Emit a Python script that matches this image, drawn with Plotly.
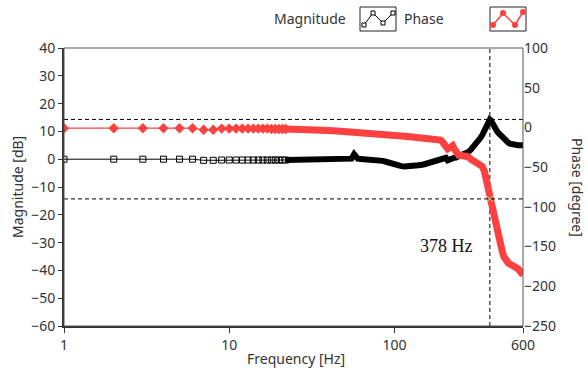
import plotly.graph_objects as go

# ---------------- data ----------------
freq_low = list(range(1, 23))
mag_low = [0, 0, 0, 0, 0, 0, -0.4, -0.4, -0.3, -0.3, -0.3, -0.3, -0.3, -0.3, -0.3,
           -0.3, -0.3, -0.3, -0.3, -0.3, -0.3, -0.3]
phase_low = [-1, -1, -1, -1, -1, -1, -3, -3, -1.5, -1.5, -1.5, -1.5, -1.5, -1.5, -1.5,
             -1.5, -1.5, -2, -2, -2, -2, -2]

freq_hi = [22, 26, 30, 35, 40, 45, 50, 55, 57, 60, 65, 70, 75, 80, 85, 90, 95, 100,
           105, 110, 115, 120, 130, 140, 150, 160, 170, 180, 190, 195, 200, 205, 210,
           215, 220, 225, 230, 235, 240, 245, 250, 260, 270, 280, 290, 300, 310, 320,
           330, 340, 350, 355, 360, 365, 370, 375, 378, 382, 386, 390, 395, 400, 405,
           410, 415, 420, 430, 440, 450, 460, 470, 480, 490, 500, 515, 530, 545, 560,
           575, 590, 600]
mag_hi = [-0.3, -0.3, -0.2, -0.1, 0, 0.1, 0.2, 0.2, 1.8, 0.2, 0, -0.1, -0.3, -0.4, -0.6,
          -1.0, -1.5, -2.0, -2.3, -2.5, -2.6, -2.6, -2.5, -2.2, -1.9, -1.5, -1.1, -0.8,
          -0.4, -0.2, 0.3, 0.5, -0.4, 0.0, 0.3, 0.4, 0.5, 0.6, 0.8, 1.0, 1.1, 1.4, 1.9,
          2.6, 3.4, 4.3, 5.3, 6.4, 7.5, 8.7, 10.2, 11.0, 11.9, 12.7, 13.5, 14.1, 14.3,
          14.1, 13.6, 13.0, 12.4, 11.8, 11.3, 10.8, 10.3, 9.9, 9.2, 8.5, 7.9, 7.3, 6.8,
          6.3, 5.9, 5.6, 5.3, 5.1, 5.0, 5.0, 5.0, 5.0, 5.0]
phase_hi = [-2, -2, -3, -3.5, -4, -4.5, -5, -5.5, -5.5, -6, -6.5, -7, -7, -7.5, -8,
            -8.5, -9, -9.5, -10, -10.5, -11, -11.5, -12, -13, -13.5, -14, -14.5, -15,
            -16, -18, -21, -26, -27, -26, -24, -23, -27, -31, -35, -35, -35, -35, -36,
            -37, -40, -42, -43, -44, -46, -49, -55, -61, -68, -74, -80, -87, -91, -96,
            -101, -105, -110, -114, -119, -124, -129, -133, -142, -150, -157, -163, -167,
            -170, -171, -172, -173, -174, -176, -178, -181, -184, -186]

cursor_freq = 378
cursor_mag = 14.3
cursor_phase = -90
x_ticks = [1, 10, 100, 600]
x_range = [1, 600]
mag_range = [-60, 40]
phase_range = [-250, 100]

# ---------------- style ----------------
RED = "#ff4040"
BLACK = "#000000"
TXT = "#333333"
FONT = "Noto Sans"
W, H = 587, 378
ML, MR, MT, MB = 64, 64, 48, 52
PW, PH = W - ML - MR, H - MT - MB


def px(x):
    return (x - ML) / PW


def py(y):
    return (H - MB - y) / PH


fig = go.Figure()

# Phase (red) on y2
fig.add_trace(go.Scatter(x=freq_low, y=phase_low, yaxis="y2", mode="lines+markers",
                         line=dict(color=RED, width=1.2),
                         marker=dict(symbol="diamond", size=8, color=RED),
                         showlegend=False, hoverinfo="skip"))
fig.add_trace(go.Scatter(x=freq_hi, y=phase_hi, yaxis="y2", mode="lines",
                         line=dict(color=RED, width=7),
                         showlegend=False, hoverinfo="skip"))
# Magnitude (black) on y
fig.add_trace(go.Scatter(x=freq_low, y=mag_low, yaxis="y", mode="lines+markers",
                         line=dict(color=BLACK, width=1),
                         marker=dict(symbol="square-open", size=6, color=BLACK,
                                     line=dict(width=1, color=BLACK)),
                         showlegend=False, hoverinfo="skip"))
fig.add_trace(go.Scatter(x=freq_hi, y=mag_hi, yaxis="y", mode="lines",
                         line=dict(color=BLACK, width=6),
                         showlegend=False, hoverinfo="skip"))

# Cursors
dash = "4px,3px"
fig.add_trace(go.Scatter(x=[cursor_freq, cursor_freq], y=mag_range, yaxis="y",
                         mode="lines", line=dict(color=BLACK, width=1, dash=dash),
                         showlegend=False, hoverinfo="skip"))
fig.add_trace(go.Scatter(x=x_range, y=[cursor_mag, cursor_mag], yaxis="y",
                         mode="lines", line=dict(color=BLACK, width=1, dash=dash),
                         showlegend=False, hoverinfo="skip"))
fig.add_trace(go.Scatter(x=x_range, y=[cursor_phase, cursor_phase], yaxis="y2",
                         mode="lines", line=dict(color=BLACK, width=1, dash=dash),
                         showlegend=False, hoverinfo="skip"))
fig.add_trace(go.Scatter(x=[cursor_freq], y=[cursor_phase], yaxis="y2",
                         mode="markers",
                         marker=dict(symbol="x-thin-open", size=6,
                                     line=dict(width=1, color=BLACK)),
                         showlegend=False, hoverinfo="skip"))

tickfont = dict(family=FONT, size=14, color=TXT)
fig.update_layout(
    width=W, height=H,
    margin=dict(l=ML, r=MR, t=MT, b=MB),
    paper_bgcolor="white", plot_bgcolor="white",
    showlegend=False,
    xaxis=dict(type="log", range=[0, 2.77815], tickvals=x_ticks,
               ticktext=[str(v) for v in x_ticks], ticks="outside", ticklen=5,
               tickcolor=TXT, tickfont=tickfont, showgrid=False, zeroline=False,
               showline=True, linecolor="#333333", linewidth=2),
    yaxis=dict(range=mag_range, dtick=10, ticks="outside", ticklen=4, tickcolor=TXT,
               tickfont=tickfont, showgrid=False, zeroline=False,
               showline=True, linecolor="#333333", linewidth=2),
    yaxis2=dict(range=phase_range, dtick=50, overlaying="y", side="right",
                ticks="", tickfont=tickfont, showgrid=False, zeroline=False,
                showline=False),
)

# frame
fig.add_shape(type="rect", xref="paper", yref="paper", x0=0, x1=1, y0=0, y1=1,
              line=dict(color="#555555", width=1), layer="above")


def label(text, x, y, font, angle=0):
    fig.add_annotation(text=text, xref="paper", yref="paper", x=px(x), y=py(y),
                       xanchor="center", yanchor="middle", textangle=angle,
                       showarrow=False, font=font, borderpad=0)


ann_font = dict(family=FONT, size=14, color=TXT)
label("Magnitude [dB]", 17, 187, ann_font, -90)
label("Phase [degree]", 578, 187, ann_font, 90)
label("Frequency [Hz]", 296, 358, ann_font)
label(f"{cursor_freq} Hz", 446, 246, dict(family="Liberation Serif", size=18, color="#111111"))

# legend (text + boxed icons)
label("Magnitude", 310, 18, ann_font)
label("Phase", 423.5, 18, ann_font)
for (bx0, bx1) in [(360, 396), (490, 526)]:
    fig.add_shape(type="rect", xref="paper", yref="paper", x0=px(bx0), x1=px(bx1),
                  y0=py(31), y1=py(7), line=dict(color="#222222", width=1))

mag_icon = [(364, 25), (373, 13), (383, 23), (393, 13)]
ph_icon = [(493, 25), (503, 13), (515, 25), (523, 12)]


def path_of(pts):
    return "M " + " L ".join(f"{px(a):.5f},{py(b):.5f}" for a, b in pts)


fig.add_shape(type="path", xref="paper", yref="paper", path=path_of(mag_icon),
              line=dict(color=BLACK, width=1))
fig.add_shape(type="path", xref="paper", yref="paper", path=path_of(ph_icon),
              line=dict(color=RED, width=1.5))
for a, b in mag_icon:
    fig.add_shape(type="rect", xref="paper", yref="paper", x0=px(a - 2), x1=px(a + 2),
                  y0=py(b + 2), y1=py(b - 2), line=dict(color=BLACK, width=1),
                  fillcolor="white")
for a, b in ph_icon:
    fig.add_shape(type="circle", xref="paper", yref="paper", x0=px(a - 3), x1=px(a + 3),
                  y0=py(b + 3), y1=py(b - 3), line=dict(color=RED, width=0),
                  fillcolor=RED)

fig.write_html("out.html")
